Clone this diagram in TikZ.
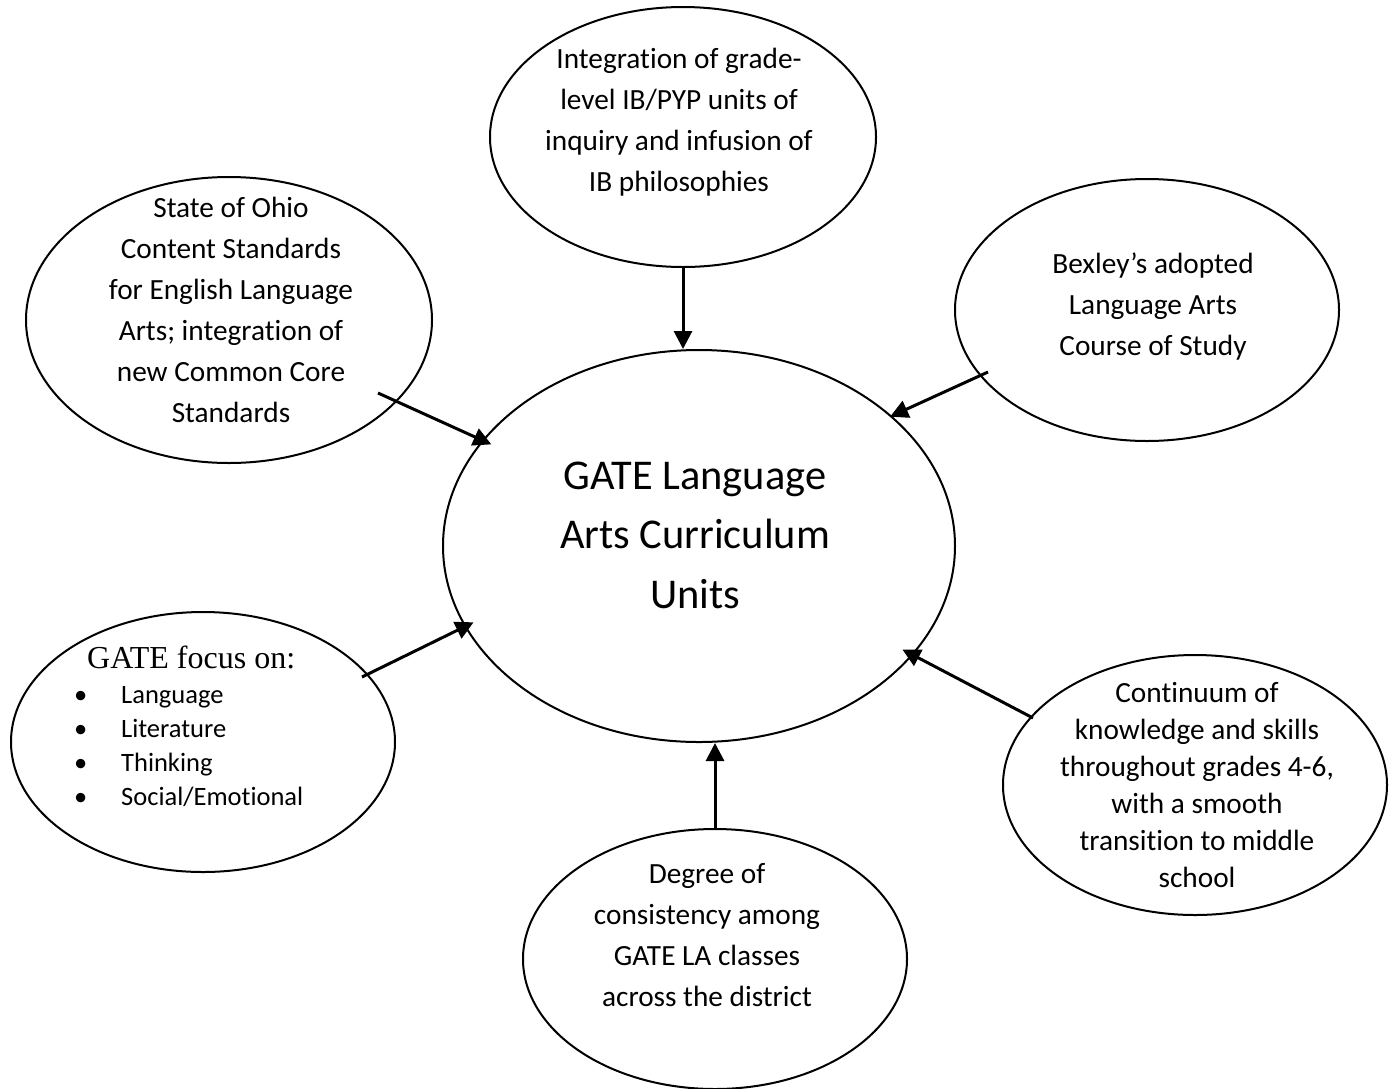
\documentclass[tikz,border=0pt]{standalone}
\usepackage{fontspec}
\setmainfont{Carlito}[Ligatures={NoCommon}]
\newfontfamily\timesf{Liberation Serif}
\usetikzlibrary{shapes.geometric,arrows.meta}
\newcommand{\bul}{\makebox[47pt][l]{\textbullet}}
\begin{document}
\begin{tikzpicture}[x=1pt,y=-1pt,
  bubble/.style={draw,ellipse,line width=2pt,inner sep=0pt},
  arr/.style={line width=3pt,-{Triangle[length=18pt,width=18pt]}},
  txt/.style={align=center,font=\fontsize{29.3}{41}\selectfont,inner sep=0pt}]
\useasboundingbox (0,0) rectangle (1395,1088);
\fill[white] (0,0) rectangle (1395,1088);
% ellipses
\node[bubble,minimum width=386pt,minimum height=260pt] (T) at (683,137) {};
\node[bubble,minimum width=406pt,minimum height=286pt] (UL) at (229,320) {};
\node[bubble,minimum width=384pt,minimum height=262pt] (UR) at (1147,310) {};
\node[bubble,minimum width=384pt,minimum height=260pt] (LL) at (203,742) {};
\node[bubble,minimum width=384pt,minimum height=260pt] (LR) at (1195,785) {};
\node[bubble,minimum width=384pt,minimum height=260pt] (B) at (715,959) {};
\node[bubble,minimum width=512pt,minimum height=392pt] (C) at (699,546) {};
% texts
\node[txt] (Tt) at (679,122) {Integration of grade-\\level IB/PYP units of\\inquiry and infusion of\\IB philosophies};
\node[txt] (ULt) at (231,310) {State of Ohio\\Content Standards\\for English Language\\Arts; integration of\\new Common Core\\Standards};
\node[txt] (URt) at (1153,307) {Bexley’s adopted\\Language Arts\\Course of Study};
\node[txt,font=\fontsize{29.3}{37.1}\selectfont] (LRt) at (1197,785) {Continuum of\\knowledge and skills\\throughout grades 4-6,\\with a smooth\\transition to middle\\school};
\node[txt] (Bt) at (707,935) {Degree of\\consistency among\\GATE LA classes\\across the district};
\node[txt,font=\fontsize{42.4}{59.5}\selectfont] (Ct) at (695,535) {GATE Language\\Arts Curriculum\\Units};
\node[anchor=base west,inner sep=0pt,font=\timesf\fontsize{32}{38}\selectfont] (LLh) at (87,668) {GATE focus on:};
\node[anchor=north west,inner sep=0pt,align=left,font=\fontsize{26.5}{34}\selectfont] (LLl) at (74,686) {\bul Language\\\bul Literature\\\bul Thinking\\\bul Social/Emotional};
% connectors
\coordinate (s1) at (378,393);
\coordinate (s2) at (988,372);
\coordinate (s3) at (362,677);
\coordinate (s4) at (1033,718);
\draw[arr] (T.south) -- (T.south |- C.north);
\draw[arr] (B.north) -- (B.north |- C.south);
\draw[arr,shorten >=-10pt] (s1) -- (C.154.25);
\draw[arr,shorten >=-2pt] (s2) -- (C.34.17);
\draw[arr,shorten >=-10pt] (s3) -- (C.199.85);
\draw[arr,shorten >=-12pt] (s4) -- (C.333.84);
\end{tikzpicture}
\end{document}
